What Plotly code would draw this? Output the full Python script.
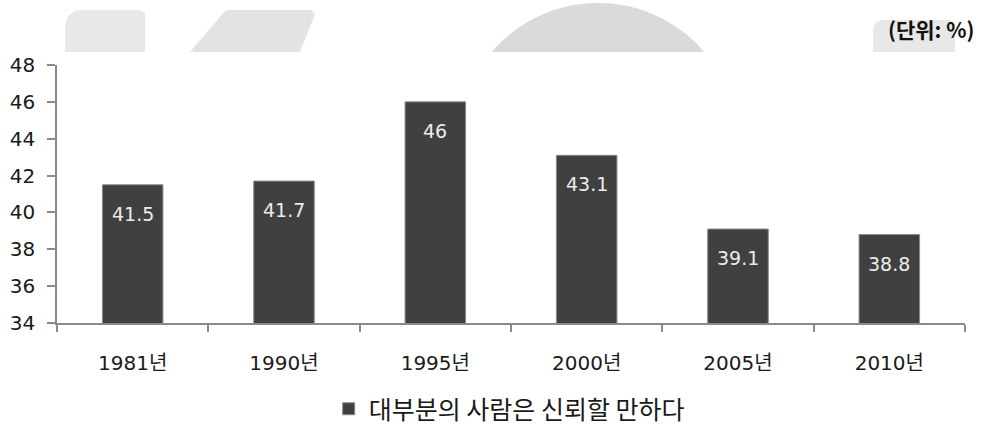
import numpy as np
import plotly.graph_objects as go

categories = ["1981년", "1990년", "1995년", "2000년", "2005년", "2010년"]
values = [41.5, 41.7, 46, 43.1, 39.1, 38.8]
value_labels = ["41.5", "41.7", "46", "43.1", "39.1", "38.8"]
series_name = "대부분의 사람은 신뢰할 만하다"
unit_label = "(단위: %)"
y_ticks = [34, 36, 38, 40, 42, 44, 46, 48]

W, H = 983, 429
L, R, T, B = 57, 18, 65, 106
PW, PH = W - L - R, H - T - B

def px(x):
    return (x - L) / PW

def py(y):
    return (H - B - y) / PH

FONT = "DejaVu Sans, Noto Sans CJK KR, sans-serif"

fig = go.Figure()
fig.add_trace(go.Bar(
    x=categories, y=values, name=series_name,
    marker=dict(color="#404040", line=dict(color="#8a8a8a", width=1)),
    width=0.4,
))

for c, v, t in zip(categories, values, value_labels):
    fig.add_annotation(x=c, y=v, xref="x", yref="y", text=t, showarrow=False,
                       yanchor="middle", yshift=-29,
                       font=dict(family=FONT, size=19, color="#ececec"))

# decorative watermark shapes above the plot
shapes = []
def path_from(pts):
    return "M " + " L ".join(f"{px(a):.5f},{py(b):.5f}" for a, b in pts) + " Z"

shapes.append(dict(type="path", xref="paper", yref="paper", layer="below",
                   path=path_from([(65, 52), (65, 25), (68, 16), (75, 11), (80, 10), (140, 10), (145, 13), (145, 52)]),
                   fillcolor="#e8e8e8", line=dict(width=0)))
shapes.append(dict(type="path", xref="paper", yref="paper", layer="below",
                   path=path_from([(190, 52), (224, 12), (228, 10), (311, 10), (315, 14), (300, 52)]),
                   fillcolor="#e3e3e3", line=dict(width=0)))
cx, cy, rr = 598, 143, 140
ang = np.linspace(np.arcsin((cy - 52) / rr), np.pi - np.arcsin((cy - 52) / rr), 60)
arc = [(cx + rr * np.cos(a), cy - rr * np.sin(a)) for a in ang]
shapes.append(dict(type="path", xref="paper", yref="paper", layer="below",
                   path=path_from(arc), fillcolor="#dadada", line=dict(width=0)))
shapes.append(dict(type="path", xref="paper", yref="paper", layer="below",
                   path=path_from([(873, 52), (873, 28), (876, 22), (882, 20), (950, 20), (955, 24), (955, 52)]),
                   fillcolor="#e8e8e8", line=dict(width=0)))

fig.add_annotation(x=px(976), y=py(29), xref="paper", yref="paper", text="<b>" + unit_label + "</b>",
                   showarrow=False, xanchor="right", yanchor="middle",
                   font=dict(family="Noto Sans CJK KR, sans-serif", size=21, color="#111111"))

fig.update_layout(
    width=W, height=H,
    margin=dict(l=L, r=R, t=T, b=B, autoexpand=False),
    paper_bgcolor="white", plot_bgcolor="rgba(0,0,0,0)",
    shapes=shapes,
    showlegend=True,
    legend=dict(orientation="h", x=0.498, xanchor="center", y=py(409), yanchor="middle",
                font=dict(family="Noto Sans CJK KR, sans-serif", size=25, color="#1a1a1a"),
                itemwidth=30, bgcolor="rgba(0,0,0,0)"),
    xaxis=dict(type="category", showline=True, linecolor="#8a8a8a", linewidth=1.5,
               ticks="outside", tickson="boundaries", ticklen=7, tickcolor="#8a8a8a", tickwidth=1.5,
               ticklabelstandoff=21, automargin=False,
               tickfont=dict(family=FONT, size=20, color="#1a1a1a"),
               showgrid=False, zeroline=False, fixedrange=True),
    yaxis=dict(range=[34, 48], tickvals=y_ticks, ticktext=[str(v) for v in y_ticks],
               showline=True, linecolor="#8a8a8a", linewidth=1.5,
               ticks="outside", ticklen=8, tickcolor="#8a8a8a", tickwidth=1.5,
               ticklabelstandoff=8, automargin=False,
               tickfont=dict(family=FONT, size=20, color="#1a1a1a"),
               showgrid=False, zeroline=False, fixedrange=True),
)

fig.write_html("out.html", config={"displayModeBar": False},
               post_script="document.body.style.margin='0';")
